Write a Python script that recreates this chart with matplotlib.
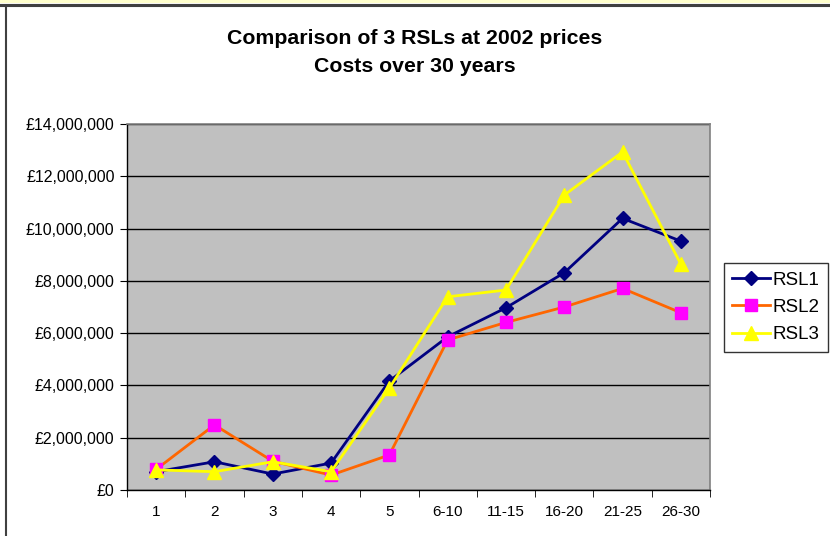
import matplotlib.pyplot as plt
from matplotlib.lines import Line2D
from matplotlib.patches import Rectangle
import numpy as np

plt.rcParams['font.family'] = ['Liberation Sans', 'DejaVu Sans']

# Cost per period (GBP)
periods = ['1', '2', '3', '4', '5', '6-10', '11-15', '16-20', '21-25', '26-30']
rsl1 = [700000, 1080000, 610000, 1030000, 4170000, 5860000, 6970000, 8310000, 10390000, 9520000]
rsl2 = [790000, 2490000, 1100000, 570000, 1340000, 5740000, 6410000, 7000000, 7710000, 6780000]
rsl3 = [770000, 700000, 1080000, 700000, 3900000, 7390000, 7650000, 11280000, 12930000, 8640000]

fig = plt.figure(figsize=(8.3, 5.36), dpi=100)
fig.patch.set_facecolor('white')

# outer frame bits
fig.add_artist(Rectangle((0, 1 - 3 / 536), 1, 3 / 536, transform=fig.transFigure,
                         facecolor='#FFFFCC', edgecolor='none'))
fig.add_artist(Line2D([0, 1], [1 - 3.5 / 536, 1 - 3.5 / 536], transform=fig.transFigure,
                      color='#404040', lw=0.8))
fig.add_artist(Line2D([0, 1], [1 - 6 / 536, 1 - 6 / 536], transform=fig.transFigure,
                      color='#404040', lw=1.5))
fig.add_artist(Line2D([5.5 / 830, 5.5 / 830], [0, 1 - 6 / 536], transform=fig.transFigure,
                      color='#404040', lw=1.5))

ax = fig.add_axes([127 / 830, 1 - 490 / 536, (710 - 127) / 830, (490 - 124) / 536])
ax.set_facecolor('#C0C0C0')

x = np.arange(len(periods))
ax.plot(x, rsl1, color='#000080', lw=2, marker='D', ms=7, mfc='#000080', mec='#000080', label='RSL1')
ax.plot(x, rsl2, color='#FF6600', lw=2, marker='s', ms=9, mfc='#FF00FF', mec='#FF00FF', label='RSL2')
ax.plot(x, rsl3, color='#FFFF00', lw=2, marker='^', ms=10, mfc='#FFFF00', mec='#FFFF00', label='RSL3')

ax.set_xlim(-0.5, len(periods) - 0.5)
ax.set_ylim(0, 14000000)
ax.set_yticks(np.arange(0, 14000001, 2000000))
ax.set_yticklabels(['£{:,.0f}'.format(v) for v in np.arange(0, 14000001, 2000000)])
ax.yaxis.grid(True, color='black', lw=1)
ax.set_axisbelow(True)

ax.set_xticks(x)
ax.set_xticklabels(periods)
ax.set_xticks(np.arange(-0.5, len(periods)), minor=True)
ax.tick_params(axis='x', which='major', length=0, pad=11, labelsize=11)
ax.tick_params(axis='x', which='minor', length=5, direction='out', color='black')
ax.tick_params(axis='y', length=5, direction='out', color='black', labelsize=11.5, pad=4)

for s in ['top', 'right']:
    ax.spines[s].set_color('#808080')
    ax.spines[s].set_linewidth(1.2)
for s in ['left', 'bottom']:
    ax.spines[s].set_color('black')
    ax.spines[s].set_linewidth(1)

fig.text(0.5, 1 - 38 / 536, 'Comparison of 3 RSLs at 2002 prices', ha='center', va='center',
         fontsize=15.3, fontweight='bold')
fig.text(0.5, 1 - 66 / 536, 'Costs over 30 years', ha='center', va='center',
         fontsize=15.3, fontweight='bold')

leg = fig.legend(loc='upper left', bbox_to_anchor=(724 / 830, 1 - 263 / 536), frameon=True,
                 fancybox=False, edgecolor='black', fontsize=13.5, handlelength=2.0,
                 borderpad=0.45, labelspacing=0.55, handletextpad=0.15, borderaxespad=0)
leg.get_frame().set_linewidth(1)

fig.savefig('out.png', dpi=100)
